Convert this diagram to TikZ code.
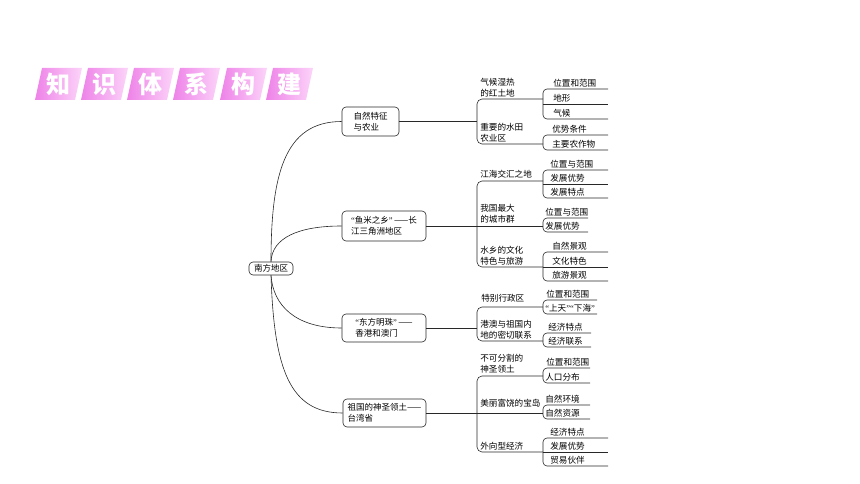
\documentclass[tikz,border=0pt]{standalone}
\usepackage{fontspec}
\setmainfont{Noto Sans CJK SC}
\newfontfamily\qfont{Liberation Serif}
\newcommand{\lqq}{{\qfont “}}
\newcommand{\rqq}{{\qfont ”}\hspace{1.5pt}}
\newcommand{\rqqn}{{\qfont ”}}
\definecolor{linec}{RGB}{40,40,40}
\definecolor{pinkA}{RGB}{238,130,232}
\definecolor{pinkB}{RGB}{252,212,249}
\begin{document}
\begin{tikzpicture}[x=1pt,y=-1pt,
  every path/.style={draw=linec, line width=0.6pt},
  box/.style={draw=linec, line width=0.6pt, rounded corners=4pt, align=left, inner sep=0pt, font=\fontsize{8.5}{11}\selectfont},
  tt/.style={anchor=south west, align=left, inner sep=0pt, font=\fontsize{8.6}{11}\selectfont},
  tile/.style={left color=pinkA, right color=pinkB, draw=none},
  tchar/.style={text=white, font=\fontsize{24}{24}\selectfont\bfseries, inner sep=0pt}
]
\useasboundingbox[draw=none] (0,0) rectangle (860,484);

% title tiles
\foreach \x/\c [count=\i] in {35/知,81/识,127/体,173/系,220/构,266/建}{
  \shade[tile] (\x,100) -- (\x+40,100) -- (\x+47,68) -- (\x+7,68) -- cycle;
  \node[tchar] (title\i) at (\x+23.5,84.5) {\c};
}

% root and level-1 nodes
\node[box, minimum width=44pt, minimum height=13pt] (root) at (271,268.5) {南方地区};
\node[box, minimum width=57pt, minimum height=29pt] (n1) at (370.5,121.5) {自然特征\\与农业};
\node[box, minimum width=84pt, minimum height=30pt] (n2) at (384,226) {\lqq 鱼米之乡\rqq ——长\\江三角洲地区};
\node[box, minimum width=84pt, minimum height=28pt] (n3) at (384,328) {\lqq 东方明珠\rqq ——\\香港和澳门};
\node[box, minimum width=83pt, minimum height=28pt] (n4) at (384.5,413) {祖国的神圣领土——\\台湾省};

\draw (root.north) .. controls (271,175) and (284,121.5) .. (n1.west);
\draw (root.north) .. controls (272,238) and (298,226) .. (n2.west);
\draw (root.south) .. controls (273,305) and (295,328) .. (n3.west);
\draw (root.south) .. controls (274,370) and (290,413) .. (n4.west);

% level-1 to brackets
\coordinate (b1) at (477,121.5);
\coordinate (b2) at (477,226);
\coordinate (b3) at (477,328);
\coordinate (b4) at (477,413);
\draw (n1.east) -- (b1);
\draw (n2.east) -- (b2);
\draw (n3.east) -- (b3);
\draw (n4.east) -- (b4);

% ---------- group 1 ----------
\draw[rounded corners=5pt] (543,99) -- (477,99) -- (477,144) -- (543,144);
\node[tt] (g1a) at (480,97.5) {气候湿热\\的红土地};
\node[tt] (g1b) at (480,142.5) {重要的水田\\农业区};
\draw[rounded corners=4pt] (608,89) -- (543,89) -- (543,119) -- (608,119);
\draw (543,104) -- (608,104);
\node[tt] (g1a1) at (553,87.5) {位置和范围};
\node[tt] (g1a2) at (553,102.5) {地形};
\node[tt] (g1a3) at (553,117.5) {气候};
\draw[rounded corners=4pt] (608,135) -- (543,135) -- (543,150) -- (608,150);
\node[tt] (g1b1) at (552,133.5) {优势条件};
\node[tt] (g1b2) at (552,148.5) {主要农作物};

% ---------- group 2 ----------
\draw[rounded corners=5pt] (543,181) -- (477,181) -- (477,267) -- (543,267);
\draw (477,226) -- (543,226);
\node[tt] (g2a) at (480,179) {江海交汇之地};
\node[tt] (g2b) at (480,223.5) {我国最大\\的城市群};
\node[tt] (g2c) at (480,265.5) {水乡的文化\\特色与旅游};
\draw[rounded corners=4pt] (608,170) -- (543,170) -- (543,198) -- (608,198);
\draw (543,184) -- (608,184);
\node[tt] (g2a1) at (550,168.5) {位置与范围};
\node[tt] (g2a2) at (550,182.5) {发展优势};
\node[tt] (g2a3) at (550,196.5) {发展特点};
\draw[rounded corners=4pt] (588,218) -- (543,218) -- (543,232) -- (588,232);
\node[tt] (g2b1) at (545,216.5) {位置与范围};
\node[tt] (g2b2) at (545,230.5) {发展优势};
\draw[rounded corners=4pt] (608,252) -- (543,252) -- (543,281) -- (608,281);
\draw (543,267) -- (608,267);
\node[tt] (g2c1) at (552,250.5) {自然景观};
\node[tt] (g2c2) at (552,265.5) {文化特色};
\node[tt] (g2c3) at (552,279.5) {旅游景观};

% ---------- group 3 ----------
\draw[rounded corners=5pt] (543,307) -- (477,307) -- (477,341) -- (543,341);
\node[tt] (g3a) at (481,303) {特别行政区};
\node[tt] (g3b) at (480,339.5) {港澳与祖国内\\地的密切联系};
\draw[rounded corners=4pt] (597,300) -- (543,300) -- (543,314) -- (597,314);
\node[tt] (g3a1) at (546,298.5) {位置和范围};
\node[tt] (g3a2) at (545,312.5) {\lqq 上天\rqqn\lqq 下海\rqqn};
\draw[rounded corners=4pt] (591,333) -- (543,333) -- (543,347) -- (591,347);
\node[tt] (g3b1) at (548,331.5) {经济特点};
\node[tt] (g3b2) at (548,345.5) {经济联系};

% ---------- group 4 ----------
\draw[rounded corners=5pt] (543,376) -- (477,376) -- (477,452) -- (543,452);
\draw (477,413) -- (543,413);
\node[tt] (g4a) at (480,373.5) {不可分割的\\神圣领土};
\node[tt] (g4b) at (480,408) {美丽富饶的宝岛};
\node[tt] (g4c) at (480,450) {外向型经济};
\draw[rounded corners=4pt] (590,368) -- (543,368) -- (543,383) -- (590,383);
\node[tt] (g4a1) at (546,366.5) {位置和范围};
\node[tt] (g4a2) at (545,381.5) {人口分布};
\draw[rounded corners=4pt] (590,405) -- (543,405) -- (543,419) -- (590,419);
\node[tt] (g4b1) at (545,403.5) {自然环境};
\node[tt] (g4b2) at (545,417.5) {自然资源};
\draw[rounded corners=4pt] (608,438) -- (543,438) -- (543,466) -- (608,466);
\draw (543,452) -- (608,452);
\node[tt] (g4c1) at (550,436.5) {经济特点};
\node[tt] (g4c2) at (550,450.5) {发展优势};
\node[tt] (g4c3) at (550,464.5) {贸易伙伴};
\end{tikzpicture}
\end{document}
